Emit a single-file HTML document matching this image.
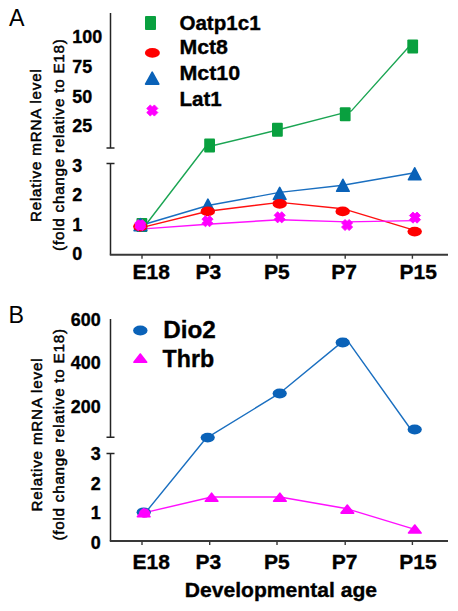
<!DOCTYPE html>
<html><head><meta charset="utf-8"><style>
html,body{margin:0;padding:0;background:#fff;}
body{width:458px;height:611px;overflow:hidden;}
svg{display:block;font-family:"Liberation Sans", sans-serif;}
text{fill:#000;}
</style></head><body>
<svg width="458" height="611" viewBox="0 0 458 611">
<text x="9" y="25.5" font-size="23.2" font-weight="normal" text-anchor="start" >A</text>
<path d="M110.5 13 V148 M106.5 148 H114.5 M106.5 163.6 H114.5 M110.5 163.6 V254.7" fill="none" stroke="#242424" stroke-width="1.5"/>
<path d="M109.8 254.7 H448" fill="none" stroke="#383838" stroke-width="1.85"/>
<path d="M142 254.6 V258.8 M209.7 254.6 V258.8 M277 254.6 V258.8 M345.2 254.6 V258.8 M412.4 254.6 V258.8" stroke="#383838" stroke-width="1.4"/>
<text x="72.3" y="42.5" font-size="17.9" font-weight="bold" text-anchor="start"  stroke="#000" stroke-width="0.35">100</text>
<text x="72.3" y="72.5" font-size="17.9" font-weight="bold" text-anchor="start"  stroke="#000" stroke-width="0.35">75</text>
<text x="72.3" y="102.6" font-size="17.9" font-weight="bold" text-anchor="start"  stroke="#000" stroke-width="0.35">50</text>
<text x="72.3" y="132.2" font-size="17.9" font-weight="bold" text-anchor="start"  stroke="#000" stroke-width="0.35">25</text>
<text x="72.3" y="172.0" font-size="17.9" font-weight="bold" text-anchor="start"  stroke="#000" stroke-width="0.35">3</text>
<text x="72.3" y="201.2" font-size="17.9" font-weight="bold" text-anchor="start"  stroke="#000" stroke-width="0.35">2</text>
<text x="72.3" y="230.7" font-size="17.9" font-weight="bold" text-anchor="start"  stroke="#000" stroke-width="0.35">1</text>
<text x="72.3" y="260.2" font-size="17.9" font-weight="bold" text-anchor="start"  stroke="#000" stroke-width="0.35">0</text>
<text x="151.2" y="279.3" font-size="21" font-weight="bold" text-anchor="middle"  stroke="#000" stroke-width="0.35">E18</text>
<text x="208.4" y="279.3" font-size="21" font-weight="bold" text-anchor="middle"  stroke="#000" stroke-width="0.35">P3</text>
<text x="276.9" y="279.3" font-size="21" font-weight="bold" text-anchor="middle"  stroke="#000" stroke-width="0.35">P5</text>
<text x="344.0" y="279.3" font-size="21" font-weight="bold" text-anchor="middle"  stroke="#000" stroke-width="0.35">P7</text>
<text x="418.3" y="279.3" font-size="21" font-weight="bold" text-anchor="middle"  stroke="#000" stroke-width="0.35">P15</text>
<text transform="translate(41.4,145.6) rotate(-90)" font-size="15.2" font-weight="normal" stroke="#000" stroke-width="0.5" text-anchor="middle" textLength="153.0" lengthAdjust="spacing">Relative mRNA level</text>
<text transform="translate(63.6,145.0) rotate(-90)" font-size="15.2" font-weight="normal" stroke="#000" stroke-width="0.5" text-anchor="middle" textLength="211.8" lengthAdjust="spacing">(fold change relative to E18)</text>
<polyline points="141.00,231.00 205.00,147.50 277.40,130.00 351.40,110.90 412.70,42.50" fill="none" stroke="#1ba553" stroke-width="1.4" stroke-linejoin="round"/>
<polyline points="140.40,225.50 207.90,205.50 279.70,192.40 342.90,185.30 414.70,172.80" fill="none" stroke="#1a6fc0" stroke-width="1.4" stroke-linejoin="round"/>
<polyline points="140.30,227.90 207.80,211.20 279.70,202.40 342.70,208.70 414.70,230.30" fill="none" stroke="#ff1010" stroke-width="1.4" stroke-linejoin="round"/>
<polyline points="140.30,229.10 207.50,224.20 279.70,219.70 347.10,221.90 415.00,220.60" fill="none" stroke="#ff10ff" stroke-width="1.4" stroke-linejoin="round"/>
<rect x="136.50" y="218.00" width="10.8" height="14.0" rx="1" fill="#09a03f"/>
<rect x="204.20" y="138.60" width="10.8" height="14.0" rx="1" fill="#09a03f"/>
<rect x="272.00" y="122.70" width="10.8" height="14.0" rx="1" fill="#09a03f"/>
<rect x="339.80" y="107.20" width="10.8" height="14.0" rx="1" fill="#09a03f"/>
<rect x="407.30" y="39.60" width="10.8" height="14.0" rx="1" fill="#09a03f"/>
<polygon points="140.40,218.70 146.70,230.70 134.10,230.70" fill="#0a62b8" stroke="#0a62b8" stroke-width="1.6" stroke-linejoin="round"/>
<polygon points="207.90,199.10 214.20,211.10 201.60,211.10" fill="#0a62b8" stroke="#0a62b8" stroke-width="1.6" stroke-linejoin="round"/>
<polygon points="279.70,187.40 286.00,199.40 273.40,199.40" fill="#0a62b8" stroke="#0a62b8" stroke-width="1.6" stroke-linejoin="round"/>
<polygon points="342.90,179.30 349.20,191.30 336.60,191.30" fill="#0a62b8" stroke="#0a62b8" stroke-width="1.6" stroke-linejoin="round"/>
<polygon points="414.70,167.80 421.00,179.80 408.40,179.80" fill="#0a62b8" stroke="#0a62b8" stroke-width="1.6" stroke-linejoin="round"/>
<ellipse cx="140.30" cy="226.60" rx="7.2" ry="4.9" fill="#ff0000"/>
<ellipse cx="207.80" cy="211.40" rx="7.2" ry="4.9" fill="#ff0000"/>
<ellipse cx="279.70" cy="203.80" rx="7.2" ry="4.9" fill="#ff0000"/>
<ellipse cx="342.70" cy="211.40" rx="7.2" ry="4.9" fill="#ff0000"/>
<ellipse cx="414.70" cy="231.60" rx="7.2" ry="4.9" fill="#ff0000"/>
<ellipse cx="140.40" cy="225.20" rx="5.4" ry="5.0" fill="#ff00ff"/>
<polygon points="134.70,223.15 138.25,219.60 140.30,221.65 142.35,219.60 145.90,223.15 143.85,225.20 145.90,227.25 142.35,230.80 140.30,228.75 138.25,230.80 134.70,227.25 136.75,225.20" fill="#ff00ff" stroke="#ff00ff" stroke-width="0.8" stroke-linejoin="round"/>
<polygon points="201.90,219.15 205.45,215.60 207.50,217.65 209.55,215.60 213.10,219.15 211.05,221.20 213.10,223.25 209.55,226.80 207.50,224.75 205.45,226.80 201.90,223.25 203.95,221.20" fill="#ff00ff" stroke="#ff00ff" stroke-width="0.8" stroke-linejoin="round"/>
<polygon points="274.10,215.25 277.65,211.70 279.70,213.75 281.75,211.70 285.30,215.25 283.25,217.30 285.30,219.35 281.75,222.90 279.70,220.85 277.65,222.90 274.10,219.35 276.15,217.30" fill="#ff00ff" stroke="#ff00ff" stroke-width="0.8" stroke-linejoin="round"/>
<polygon points="341.50,222.95 345.05,219.40 347.10,221.45 349.15,219.40 352.70,222.95 350.65,225.00 352.70,227.05 349.15,230.60 347.10,228.55 345.05,230.60 341.50,227.05 343.55,225.00" fill="#ff00ff" stroke="#ff00ff" stroke-width="0.8" stroke-linejoin="round"/>
<polygon points="409.40,215.55 412.95,212.00 415.00,214.05 417.05,212.00 420.60,215.55 418.55,217.60 420.60,219.65 417.05,223.20 415.00,221.15 412.95,223.20 409.40,219.65 411.45,217.60" fill="#ff00ff" stroke="#ff00ff" stroke-width="0.8" stroke-linejoin="round"/>
<rect x="145.00" y="16.10" width="11" height="13.8" rx="1" fill="#09a03f"/>
<ellipse cx="152.40" cy="52.90" rx="7.5" ry="4.85" fill="#ff0000"/>
<polygon points="152.20,72.20 158.85,84.10 145.55,84.10" fill="#0a62b8" stroke="#0a62b8" stroke-width="1.6" stroke-linejoin="round"/>
<polygon points="146.70,108.45 150.25,104.90 152.30,106.95 154.35,104.90 157.90,108.45 155.85,110.50 157.90,112.55 154.35,116.10 152.30,114.05 150.25,116.10 146.70,112.55 148.75,110.50" fill="#ff00ff" stroke="#ff00ff" stroke-width="0.8" stroke-linejoin="round"/>
<text x="179.4" y="30.1" font-size="20.6" font-weight="bold" text-anchor="start"  stroke="#000" stroke-width="0.35">Oatp1c1</text>
<text x="179.4" y="54.3" font-size="20.6" font-weight="bold" text-anchor="start"  textLength="48.6" lengthAdjust="spacingAndGlyphs" stroke="#000" stroke-width="0.35">Mct8</text>
<text x="179.4" y="80.1" font-size="20.6" font-weight="bold" text-anchor="start"  textLength="60.8" lengthAdjust="spacingAndGlyphs" stroke="#000" stroke-width="0.35">Mct10</text>
<text x="179.4" y="105.6" font-size="20.6" font-weight="bold" text-anchor="start"  stroke="#000" stroke-width="0.35">Lat1</text>
<text x="8.6" y="323.2" font-size="23.2" font-weight="normal" text-anchor="start" >B</text>
<path d="M110.5 319 V437.2 M106.5 437.2 H114.5 M106.5 453.6 H114.5 M110.5 453.6 V541" fill="none" stroke="#242424" stroke-width="1.5"/>
<path d="M109.8 541 H448" fill="none" stroke="#383838" stroke-width="1.85"/>
<path d="M142 541 V545 M209.7 541 V545 M277 541 V545 M345.2 541 V545 M412.4 541 V545" stroke="#383838" stroke-width="1.4"/>
<text x="100.7" y="325.6" font-size="17.9" font-weight="bold" text-anchor="end"  stroke="#000" stroke-width="0.35">600</text>
<text x="100.7" y="368.9" font-size="17.9" font-weight="bold" text-anchor="end"  stroke="#000" stroke-width="0.35">400</text>
<text x="100.7" y="412.5" font-size="17.9" font-weight="bold" text-anchor="end"  stroke="#000" stroke-width="0.35">200</text>
<text x="100.7" y="460.4" font-size="17.9" font-weight="bold" text-anchor="end"  stroke="#000" stroke-width="0.35">3</text>
<text x="100.7" y="490.0" font-size="17.9" font-weight="bold" text-anchor="end"  stroke="#000" stroke-width="0.35">2</text>
<text x="100.7" y="519.4" font-size="17.9" font-weight="bold" text-anchor="end"  stroke="#000" stroke-width="0.35">1</text>
<text x="100.7" y="549.2" font-size="17.9" font-weight="bold" text-anchor="end"  stroke="#000" stroke-width="0.35">0</text>
<text x="151.2" y="568.7" font-size="21" font-weight="bold" text-anchor="middle"  stroke="#000" stroke-width="0.35">E18</text>
<text x="208.4" y="568.7" font-size="21" font-weight="bold" text-anchor="middle"  stroke="#000" stroke-width="0.35">P3</text>
<text x="276.9" y="568.7" font-size="21" font-weight="bold" text-anchor="middle"  stroke="#000" stroke-width="0.35">P5</text>
<text x="344.6" y="568.7" font-size="21" font-weight="bold" text-anchor="middle"  stroke="#000" stroke-width="0.35">P7</text>
<text x="418.0" y="568.7" font-size="21" font-weight="bold" text-anchor="middle"  stroke="#000" stroke-width="0.35">P15</text>
<text x="280.9" y="597.0" font-size="20.9" font-weight="bold" text-anchor="middle"  textLength="192.2" lengthAdjust="spacingAndGlyphs" stroke="#000" stroke-width="0.35">Developmental age</text>
<text transform="translate(41.6,435) rotate(-90)" font-size="15.2" font-weight="normal" stroke="#000" stroke-width="0.5" text-anchor="middle" textLength="153.2" lengthAdjust="spacing">Relative mRNA level</text>
<text transform="translate(63.6,434.8) rotate(-90)" font-size="15.2" font-weight="normal" stroke="#000" stroke-width="0.5" text-anchor="middle" textLength="211.6" lengthAdjust="spacing">(fold change relative to E18)</text>
<polyline points="143.70,514.80 206.00,438.30 279.70,393.20 346.10,338.60 412.00,431.00" fill="none" stroke="#1a6fc0" stroke-width="1.4" stroke-linejoin="round"/>
<polyline points="143.70,512.90 211.60,497.00 279.90,497.00 347.30,508.80 414.80,529.40" fill="none" stroke="#ff10ff" stroke-width="1.4" stroke-linejoin="round"/>
<ellipse cx="143.70" cy="512.30" rx="7.1" ry="4.9" fill="#0a62b8"/>
<ellipse cx="207.70" cy="437.60" rx="7.1" ry="4.9" fill="#0a62b8"/>
<ellipse cx="279.70" cy="393.50" rx="7.1" ry="4.9" fill="#0a62b8"/>
<ellipse cx="342.70" cy="342.50" rx="7.1" ry="4.9" fill="#0a62b8"/>
<ellipse cx="414.70" cy="429.50" rx="7.1" ry="4.9" fill="#0a62b8"/>
<ellipse cx="144.60" cy="513.20" rx="5.6" ry="4.6" fill="#ff00ff"/>
<polygon points="143.70,508.80 150.00,516.80 137.40,516.80" fill="#ff00ff" stroke="#ff00ff" stroke-width="1.6" stroke-linejoin="round"/>
<polygon points="211.60,493.20 217.90,501.20 205.30,501.20" fill="#ff00ff" stroke="#ff00ff" stroke-width="1.6" stroke-linejoin="round"/>
<polygon points="279.90,493.20 286.20,501.20 273.60,501.20" fill="#ff00ff" stroke="#ff00ff" stroke-width="1.6" stroke-linejoin="round"/>
<polygon points="347.30,505.10 353.60,513.10 341.00,513.10" fill="#ff00ff" stroke="#ff00ff" stroke-width="1.6" stroke-linejoin="round"/>
<polygon points="414.80,525.00 421.10,533.00 408.50,533.00" fill="#ff00ff" stroke="#ff00ff" stroke-width="1.6" stroke-linejoin="round"/>
<ellipse cx="140.30" cy="330.50" rx="7.2" ry="5.0" fill="#0a62b8"/>
<polygon points="140.30,354.00 146.70,362.20 133.90,362.20" fill="#ff00ff" stroke="#ff00ff" stroke-width="1.6" stroke-linejoin="round"/>
<text x="163.2" y="338.2" font-size="23.2" font-weight="bold" text-anchor="start"  textLength="52.6" lengthAdjust="spacingAndGlyphs" stroke="#000" stroke-width="0.35">Dio2</text>
<text x="162.6" y="366.8" font-size="23.2" font-weight="bold" text-anchor="start"  stroke="#000" stroke-width="0.35">Thrb</text>
</svg>
</body></html>
